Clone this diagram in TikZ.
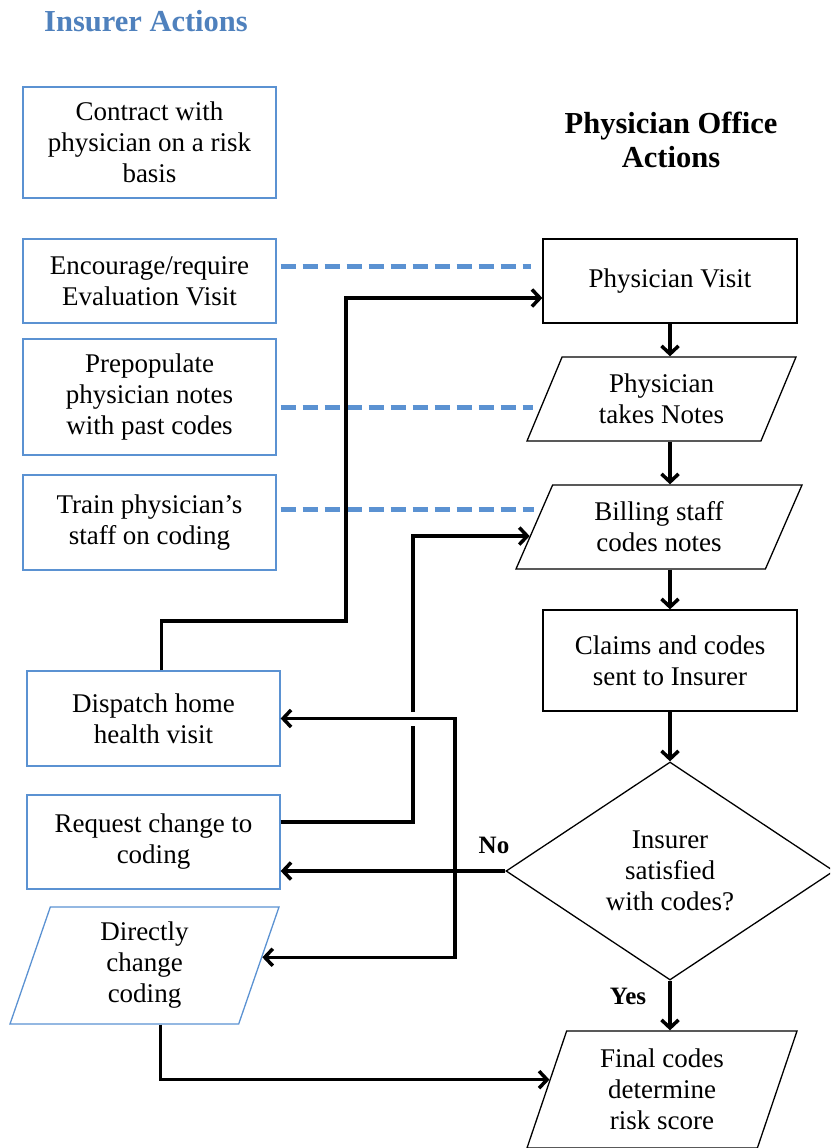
\documentclass[tikz,border=0pt]{standalone}
\usepackage{fontspec}
\setmainfont{Liberation Serif}
\usetikzlibrary{shapes.geometric,arrows.meta}
\definecolor{insurerblue}{RGB}{79,129,189}
\definecolor{boxblue}{RGB}{91,146,210}
\tikzset{
  every node/.style={font=\fontsize{27}{31}\selectfont, align=center},
  head/.style={font=\fontsize{30.5}{34}\selectfont\bfseries},
  answer/.style={font=\fontsize{25}{28}\selectfont\bfseries},
  insurer/.style={draw=boxblue, line width=1.3pt, minimum width=253pt, inner sep=2pt},
  office/.style={draw, line width=1.3pt, minimum width=254pt, minimum height=84pt},
  slanted/.style={draw, line width=1.3pt, trapezium, trapezium stretches body, inner sep=2pt},
  decision/.style={draw, line width=1.3pt, diamond, aspect=1.5, minimum width=328pt, minimum height=218pt, inner sep=0pt},
  flow/.style={line width=3.5pt, -{Straight Barb[length=8pt, width=17pt]}},
  link/.style={boxblue, line width=5pt, dash pattern=on 15pt off 7pt}
}
\begin{document}
\begin{tikzpicture}[x=1pt, y=-1pt]
\useasboundingbox (0,0) rectangle (830,1148);
\clip (0,0) rectangle (830,1148);
% insurer side
\node[head, text=insurerblue] (ins) at (146,21) {Insurer Actions};
\node[insurer, minimum height=111pt] (contract) at (149.5,142.5) {Contract with\\physician on a risk\\basis};
\node[insurer, minimum height=84pt] (encourage) at (149.5,281) {Encourage/require\\Evaluation Visit};
\node[insurer, minimum height=116pt] (prepop) at (149.5,397) {Prepopulate\\physician notes\\with past codes};
\node[insurer, minimum height=95pt] (train) at (149.5,522.5) {Train physician’s\\staff on coding};
\node[insurer, minimum height=95pt] (dispatch) at (153.5,718.5) {Dispatch home\\health visit};
\node[insurer, minimum height=94pt] (request) at (153.5,842) {Request change to\\coding};
\node[slanted, draw=boxblue, trapezium left angle=66, trapezium right angle=114,
  minimum width=269pt, minimum height=117pt] (direct) at (144.5,965.5) {Directly\\change\\coding};
% physician office side
\node[head] (office) at (671,140) {Physician Office\\Actions};
\node[office] (visit) at (670,281) {Physician Visit};
\node[slanted, trapezium left angle=57, trapezium right angle=123,
  minimum width=269pt, minimum height=84pt] (notes) at (661.5,399) {Physician\\takes Notes};
\node[slanted, trapezium left angle=56, trapezium right angle=124,
  minimum width=286pt, minimum height=84pt] (billing) at (659,527) {Billing staff\\codes notes};
\node[office, minimum height=101pt] (claims) at (670,660.5) {Claims and codes\\sent to Insurer};
\node[decision] (satisfied) at (670,871) {Insurer\\satisfied\\with codes?};
\node[slanted, trapezium left angle=65, trapezium right angle=115,
  minimum width=270pt, minimum height=117pt] (final) at (662,1089.5) {Final codes\\determine\\risk score};
\node[answer] (no) at (494,845) {No};
\node[answer] (yes) at (628,996) {Yes};
% dashed links
\draw[link, shorten <=4pt, shorten >=11pt] ([yshift=15pt]encourage.east) -- ([yshift=15pt]encourage.east -| visit.west);
\draw[link, shorten <=4pt, shorten >=11pt] ([yshift=-10pt]prepop.east) -- ([yshift=-10pt]prepop.east -| notes.west);
\draw[link, shorten <=4pt] ([yshift=13pt]train.east) -- ([yshift=13pt]train.east -| billing.west);
% main flow
\draw[flow] (visit.south) -- (visit.south |- notes.north);
\draw[flow] (notes.south -| visit) -- (billing.north -| visit);
\draw[flow] (billing.south -| visit) -- (claims.north);
\draw[flow] (claims) -- (satisfied);
\draw[flow] (satisfied.south) -- (satisfied.south |- final.north);
% insurer responses
\coordinate (jogA) at (346,621);
\coordinate (jogB) at (413,0);
\coordinate (fork) at (455,870);
\draw[flow] ([xshift=8pt]dispatch.north) |- (jogA) |- ([yshift=-17pt]visit.west);
\draw[flow] ([yshift=20pt]request.east) -| (jogB |- billing.184) -- (billing.184);
\draw[flow, preaction={draw=white, line width=14pt, -}] (fork) |- (dispatch.east);
\draw[flow] (satisfied.west) -- (satisfied.west -| request.east);
\draw[flow] (fork) |- (direct.4);
\draw[flow] ([xshift=16pt]direct.south) |- (final.175);
\end{tikzpicture}
\end{document}
